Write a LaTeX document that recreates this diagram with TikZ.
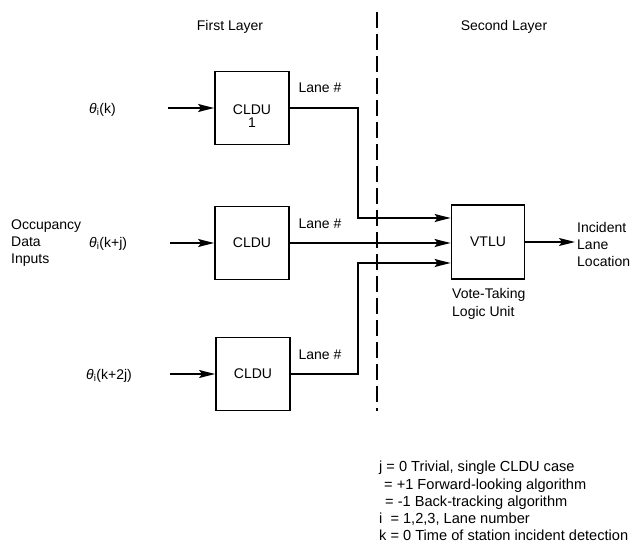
\documentclass[tikz,border=0pt]{standalone}
\usepackage{fontspec}
\setmainfont{Liberation Sans}
\usetikzlibrary{arrows.meta}

\begin{document}
\begin{tikzpicture}[x=1pt, y=-1pt,
    >={Stealth[length=16pt, width=8pt, inset=3pt]},
    % Styles
    unit/.style={draw, line width=1.8pt, minimum width=74pt, minimum height=73pt,
                 inner sep=0pt, font=\fontsize{14}{16}\selectfont, align=center},
    arrow/.style={->, line width=1.5pt},
    divider/.style={line width=1.5pt, dash pattern=on 16pt off 6pt},
    lbl/.style={font=\fontsize{14}{17}\selectfont, align=left, inner sep=0pt},
  ]
  \useasboundingbox (0,0) rectangle (633,546);

  % Layer titles
  \node[lbl] (first) at (230,27) {First Layer};
  \node[lbl] (second) at (504,27) {Second Layer};

  % Divider between layers
  \coordinate (divtop) at (377,12);
  \coordinate (divbot) at (377,411);
  \draw[divider] (divtop) -- (divbot);

  % First layer units
  \node[unit] (cldu1) at (252,108) {\raisebox{-19pt}[0pt][0pt]{\shortstack{CLDU\\1}}};
  \node[unit] (cldu2) at (252,243) {CLDU};
  \node[unit] (cldu3) at (253,374) {CLDU};

  % Second layer unit
  \node[unit, minimum width=73pt, minimum height=74pt] (vtlu) at (488,242) {VTLU};
  \node[lbl, anchor=north west] (vtlulbl) at (452,288) {Vote-Taking\\[1pt]Logic Unit};

  % Inputs
  \node[lbl, anchor=west] (occ) at (11,243) {Occupancy\\Data\\Inputs};
  \node[lbl, anchor=west] (theta1) at (89,110) {{\itshape θ}\textsubscript{i}(k)};
  \node[lbl, anchor=west] (theta2) at (89,244) {{\itshape θ}\textsubscript{i}(k+j)};
  \node[lbl, anchor=west] (theta3) at (86,376) {{\itshape θ}\textsubscript{i}(k+2j)};
  \coordinate (in1) at (168,108);
  \coordinate (in2) at (170,243);
  \coordinate (in3) at (170,374);
  \draw[arrow] (in1) -- (cldu1);
  \draw[arrow] (in2) -- (cldu2);
  \draw[arrow] (in3) -- (cldu3);

  % Lane outputs
  \node[lbl] (lane1) at (320,88) {Lane \#};
  \node[lbl] (lane2) at (320,224) {Lane \#};
  \node[lbl] (lane3) at (320,355) {Lane \#};
  \coordinate (bend1) at (358,218);
  \coordinate (bend3) at (358,263);
  \draw[arrow] (cldu1.east) -| (bend1) -- (vtlu.west |- bend1);
  \draw[arrow] (cldu2.east) -- (vtlu.west |- cldu2.east);
  \draw[arrow] (cldu3.east) -| (bend3) -- (vtlu.west |- bend3);

  % Output
  \coordinate (out) at (575,242);
  \draw[arrow] (vtlu) -- (out);
  \node[lbl, anchor=west] (incident) at (577,244) {Incident\\Lane\\Location};

  % Legend
  \node[lbl, anchor=north west, font=\fontsize{14.6}{17.3}\selectfont] (legend) at (379,461) {%
    j = 0 Trivial, single CLDU case\\
    \hspace{5pt}= +1 Forward-looking algorithm\\
    \hspace{6pt}= -1 Back-tracking algorithm\\
    i\ \ = 1,2,3, Lane number\\
    k = 0 Time of station incident detection};

\end{tikzpicture}
\end{document}
